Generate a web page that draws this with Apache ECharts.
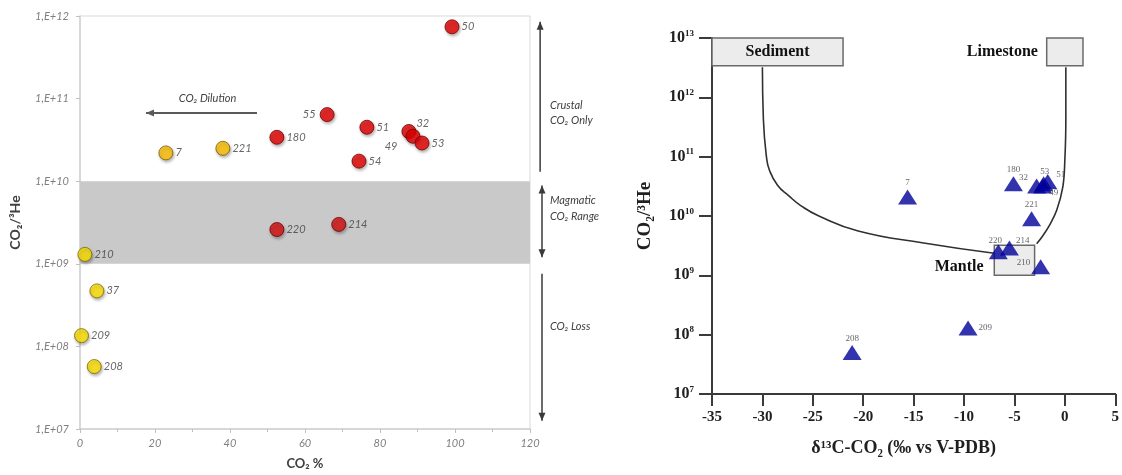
<!DOCTYPE html>
<html><head><meta charset="utf-8">
<script src="https://cdn.jsdelivr.net/npm/echarts@6/dist/echarts.min.js"></script>
<style>html,body{margin:0;padding:0;background:#fff}#c{width:1122px;height:475px}</style>
</head><body><div id="c"></div>
<script>
// ---------- Left panel data: CO2 % vs CO2/3He ----------
const leftNames = ['50','55','51','32','49','53','54','180','7','221','220','214','210','37','209','208'];
const leftCO2   = [99.2, 65.9, 76.5, 87.7, 88.8, 91.2, 74.4, 52.5, 22.9, 38.1, 52.5, 69.0, 1.3, 4.5, 0.4, 3.8];
const leftRatio = [7.4e11, 6.4e10, 4.5e10, 4.0e10, 3.5e10, 2.9e10, 1.75e10, 3.4e10, 2.2e10, 2.5e10, 2.6e9, 3.0e9, 1.3e9, 4.7e8, 1.35e8, 5.7e7];
const leftGroup = ['crustal','crustal','crustal','crustal','crustal','crustal','crustal','crustal','dilution','dilution','magmatic','magmatic','loss','loss','loss','loss'];
const leftXTicks = [0, 20, 40, 60, 80, 100, 120];
const leftBand = [1e9, 1e10];

// ---------- Right panel data: d13C-CO2 vs CO2/3He ----------
const rightNames = ['7','180','32','53','51','49','221','220','214','210','209','208'];
const rightD13C  = [-15.6, -5.1, -2.8, -2.1, -1.7, -2.2, -3.3, -6.6, -5.5, -2.4, -9.6, -21.1];
const rightRatio = [2.1e10, 3.5e10, 3.2e10, 3.5e10, 3.8e10, 3.2e10, 9e9, 2.5e9, 2.9e9, 1.4e9, 1.3e8, 5e7];
// mixing curves
const sedCurveX = [-30.0, -29.9, -29.6, -29.3, -28.5, -27.4, -26.2, -24.4, -20.5, -14.0, -7.0];
const sedCurveY = [3.2e12, 4.2e11, 1.0e11, 5.9e10, 3.3e10, 2.2e10, 1.5e10, 1.0e10, 5.6e9, 3.5e9, 2.35e9];
const limCurveX = [0.1, 0.1, 0.0, -0.2, -0.8, -1.5, -2.2, -2.8];
const limCurveY = [3.2e12, 4.2e11, 8.7e10, 3.1e10, 1.26e10, 7.1e9, 4.6e9, 3.4e9];
// end-member boxes
const boxNames = ['Sediment', 'Limestone', 'Mantle'];
const boxX0 = [-35.4, -1.8, -7.0];
const boxX1 = [-22.0, 1.8, -3.0];
const boxY0 = [3.4e12, 3.4e12, 1.0e9];
const boxY1 = [1e13, 1e13, 3.2e9];

const chart = echarts.init(document.getElementById('c'), null, {renderer:'canvas'});

const groupStyle = {
  crustal:  {color:'#e60000', borderColor:'#7a0000'},
  magmatic: {color:'#d81010', borderColor:'#700000'},
  dilution: {color:'#ffc000', borderColor:'#7a5a00'},
  loss:     {color:'#ffe100', borderColor:'#7a6a00'}
};
const leftLabelPos = {
  '55': {position:'left', distance:4},
  '49': {position:'left', distance:6, offset:[-2, 10]},
  '32': {position:'right', distance:2, offset:[-2, -8]},
};
const leftData = leftNames.map((n,i)=>{
  const st = groupStyle[leftGroup[i]];
  return {
    name:n, value:[leftCO2[i], leftRatio[i]],
    itemStyle:{color:st.color, borderColor:st.borderColor, borderWidth:1,
      shadowBlur:3, shadowColor:'rgba(0,0,0,0.35)', shadowOffsetX:1, shadowOffsetY:2},
    label: Object.assign({show:true}, leftLabelPos[n] || {position:'right', distance:2})
  };
});

const rightLabelPos = {
  '32': {position:'left', distance:1, offset:[2,-8]},
  '51': {position:'right', distance:1, offset:[-2,-7]},
  '49': {position:'right', distance:0, offset:[-3,7]},
  '53': {position:'top', distance:0, offset:[1,0]},
  '209': {position:'right', distance:1},
  '210': {position:'left', distance:1, offset:[0,-4]},
  '214': {position:'right', distance:0, offset:[-3,-7]},
  '220': {position:'top', distance:0, offset:[-3,1]},
};
const rightData = rightNames.map((n,i)=>({
  name:n, value:[rightD13C[i], rightRatio[i]],
  label:Object.assign({show:true}, rightLabelPos[n] || {position:'top', distance:2})
}));

const serif = '"Liberation Serif", "DejaVu Serif", serif';
const sans = 'Lato, "Open Sans", sans-serif';

const option = {
  animation:false,
  backgroundColor:'#fff',
  grid:[
    {left:80, right:592, top:16, bottom:45, show:true, borderColor:'#d9d9d9', borderWidth:1},
    {left:712, right:1, top:38, bottom:81}
  ],
  xAxis:[
    {gridIndex:0, type:'value', min:leftXTicks[0], max:leftXTicks[leftXTicks.length-1], interval:20,
     name:'CO₂ %', nameLocation:'middle', nameGap:28,
     nameTextStyle:{fontFamily:sans, fontWeight:'bold', fontSize:13, color:'#404040'},
     axisLine:{lineStyle:{color:'#d0d0d0', width:1.5}},
     axisTick:{show:true, length:4, inside:false, lineStyle:{color:'#c0c0c0'}},
     minorTick:{show:true, splitNumber:2, length:3, lineStyle:{color:'#c0c0c0'}},
     axisLabel:{fontFamily:sans, fontStyle:'italic', fontSize:11, color:'#7f7f7f', margin:9},
     splitLine:{show:false}},
    {gridIndex:1, type:'value', min:-35, max:5, interval:5,
     name:'δ¹³C-CO₂ (‰ vs V-PDB)', nameLocation:'middle', nameGap:45,
     nameTextStyle:{fontFamily:serif, fontWeight:'bold', fontSize:18, color:'#202020', padding:[0,20,0,0]},
     axisLine:{onZero:false, lineStyle:{color:'#3a3a3a', width:2}},
     axisTick:{show:true, length:12, lineStyle:{color:'#3a3a3a', width:2}},
     axisLabel:{fontFamily:serif, fontWeight:'bold', fontSize:15, color:'#202020', margin:16},
     splitLine:{show:false}}
  ],
  yAxis:[
    {gridIndex:0, type:'log', logBase:10, min:1e7, max:1e12,
     name:'CO₂/³He', nameLocation:'middle', nameGap:58,
     nameTextStyle:{fontFamily:sans, fontWeight:'bold', fontSize:14, color:'#404040'},
     axisLine:{show:true, lineStyle:{color:'#d0d0d0', width:1.5}},
     axisTick:{show:true, length:4, lineStyle:{color:'#c0c0c0'}},
     axisLabel:{fontFamily:sans, fontStyle:'italic', fontSize:11, color:'#7f7f7f', margin:11,
       formatter:v=>'1,E+'+String(Math.round(Math.log10(v))).padStart(2,'0')},
     splitLine:{show:false}},
    {gridIndex:1, type:'log', logBase:10, min:1e7, max:1e13,
     name:'CO₂/³He', nameLocation:'middle', nameGap:57,
     nameTextStyle:{fontFamily:serif, fontWeight:'bold', fontSize:19, color:'#202020'},
     axisLine:{show:true, onZero:false, lineStyle:{color:'#3a3a3a', width:2}},
     axisTick:{show:true, length:13, lineStyle:{color:'#3a3a3a', width:2}},
     axisLabel:{margin:18, formatter:v=>'{b|10}{s|'+Math.round(Math.log10(v))+'}',
       rich:{b:{fontFamily:serif, fontWeight:'bold', fontSize:16, color:'#202020'},
             s:{fontFamily:serif, fontWeight:'bold', fontSize:9, color:'#202020', verticalAlign:'top', padding:[0,0,9,0]}}},
     splitLine:{show:false}}
  ],
  series:[
    {type:'scatter', xAxisIndex:0, yAxisIndex:0, symbol:'circle', symbolSize:14, z:5,
     data:leftData,
     label:{formatter:'{b}', fontFamily:sans, fontStyle:'italic', fontSize:11, color:'#404040'},
     markArea:{silent:true, itemStyle:{color:'#c9c9c9'},
       data:[[{yAxis:leftBand[0]},{yAxis:leftBand[1]}]]}},
    {type:'line', xAxisIndex:1, yAxisIndex:1, data:sedCurveX.map((x,i)=>[x,sedCurveY[i]]),
     smooth:0.5, symbol:'none', lineStyle:{color:'#303030', width:1.6}, z:3},
    {type:'line', xAxisIndex:1, yAxisIndex:1, data:limCurveX.map((x,i)=>[x,limCurveY[i]]),
     smooth:0.4, symbol:'none', lineStyle:{color:'#303030', width:1.6}, z:3,
     markArea:{silent:true, z:4,
       itemStyle:{color:'#ececec', borderColor:'#6a6a6a', borderWidth:1.5},
       label:{fontFamily:serif, fontWeight:'bold', fontSize:16, color:'#111'},
       data:boxNames.map((n,i)=>[
         {name:n, coord:[boxX0[i], boxY1[i]],
          label: i===0 ? {position:'inside'} : (i===1 ? {position:'left', distance:8} : {position:'left', distance:10, offset:[0,7]})},
         {coord:[boxX1[i], boxY0[i]]}])}},
    {type:'scatter', xAxisIndex:1, yAxisIndex:1, symbol:'triangle', symbolSize:[19,15], z:6,
     itemStyle:{color:'#00009a'},
     label:{formatter:'{b}', fontFamily:serif, fontSize:9, color:'#404040'},
     data:rightData}
  ]
};
chart.setOption(option);

// ---------- annotations on the left panel (data coordinates) ----------
const annotArrows = [ // [x1,y1,x2,y2, doubleHeaded]
  [47.2, 6.7e10, 17.6, 6.7e10, false],
  [122.7, 1.3e10, 122.7, 8.5e11, false],
  [123.2, 8.9e9, 123.2, 1.2e9, true],
  [123.2, 7.6e8, 123.2, 1.26e7, false]
];
const annotTexts = [ // [text, x, y, align]
  ['CO₂ Dilution', 34, 1.0e11, 'center'],
  ['Crustal', 125.3, 8.3e10, 'left'],
  ['CO₂ Only', 125.3, 5.4e10, 'left'],
  ['Magmatic', 125.3, 5.8e9, 'left'],
  ['CO₂ Range', 125.3, 3.7e9, 'left'],
  ['CO₂ Loss', 125.3, 1.74e8, 'left']
];
function px(x,y){return chart.convertToPixel({gridIndex:0},[x,y]);}
function arrowHead(x1,y1,x2,y2,color){
  const a=Math.atan2(y2-y1,x2-x1), L=8, W=3.5;
  const bx=x2-L*Math.cos(a), by=y2-L*Math.sin(a);
  return {type:'polygon', silent:true, z:10, shape:{points:[[x2,y2],[bx+W*Math.sin(a),by-W*Math.cos(a)],[bx-W*Math.sin(a),by+W*Math.cos(a)]]}, style:{fill:color}};
}
const gfx=[];
annotArrows.forEach((ar,k)=>{
  const p1=px(ar[0],ar[1]), p2=px(ar[2],ar[3]);
  const col = k===0 ? '#5a5a5a' : '#3a3a3a';
  gfx.push({type:'line', silent:true, z:10, shape:{x1:p1[0],y1:p1[1],x2:p2[0],y2:p2[1]}, style:{stroke:col, lineWidth:k===0?2:1.5}});
  gfx.push(arrowHead(p1[0],p1[1],p2[0],p2[1],col));
  if(ar[4]) gfx.push(arrowHead(p2[0],p2[1],p1[0],p1[1],col));
});
annotTexts.forEach(t=>{
  const p=px(t[1],t[2]);
  gfx.push({type:'text', silent:true, z:10, x:p[0], y:p[1],
    style:{text:t[0], font:'italic 11px '+sans, fill:'#404040', align:t[3], verticalAlign:'middle'}});
});
chart.setOption({graphic:gfx});
</script></body></html>
